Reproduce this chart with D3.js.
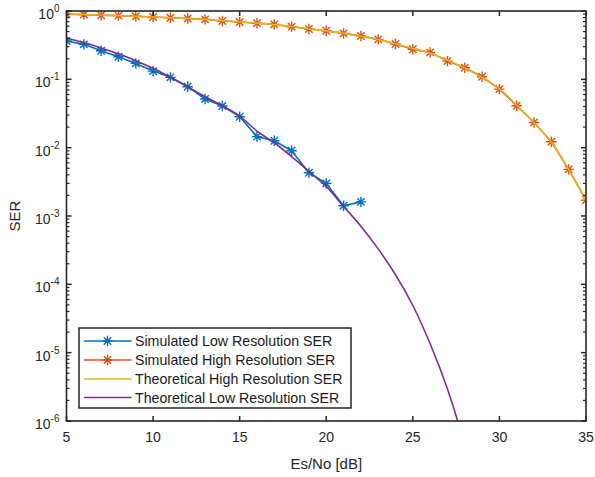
<!DOCTYPE html>
<html>
<head>
<meta charset="utf-8">
<script src="https://cdn.jsdelivr.net/npm/d3@7"></script>
<style>
  html, body { margin: 0; padding: 0; background: #fff; }
  svg { display: block; font-family: "Liberation Sans", Arial, Helvetica, sans-serif; }
</style>
</head>
<body>
<svg id="chart" width="595" height="477"></svg>
<script>
// Es/No axis (dB)
const xTicks = [5, 10, 15, 20, 25, 30, 35];
const yExponents = [0, -1, -2, -3, -4, -5, -6];

// Simulated low resolution SER, 5..22 dB
const simLowX = [5, 6, 7, 8, 9, 10, 11, 12, 13, 14, 15, 16, 17, 18, 19, 20, 21, 22];
const simLowY = [0.365, 0.325, 0.262, 0.214, 0.171, 0.132, 0.107, 0.078, 0.0515, 0.0407,
                 0.0284, 0.0145, 0.0126, 0.0090, 0.0043, 0.0030, 0.00141, 0.00161];

// Simulated high resolution SER, 5..35 dB
const simHighX = d3.range(5, 36);
const simHighY = [0.90, 0.885, 0.868, 0.855, 0.836, 0.817, 0.798, 0.776, 0.755, 0.715,
                  0.690, 0.661, 0.638, 0.589, 0.545, 0.515, 0.471, 0.431, 0.385, 0.329,
                  0.275, 0.248, 0.185, 0.148, 0.109, 0.072, 0.0411, 0.0234, 0.0122, 0.00481, 0.00171];

// Theoretical high resolution SER
const thHighX = d3.range(5, 36);
const thHighY = [0.91, 0.89, 0.872, 0.855, 0.836, 0.817, 0.797, 0.776, 0.752, 0.722,
                 0.695, 0.665, 0.632, 0.592, 0.548, 0.512, 0.470, 0.428, 0.381, 0.331,
                 0.283, 0.240, 0.190, 0.146, 0.107, 0.0725, 0.0418, 0.0232, 0.0121, 0.00478, 0.00168];

// Theoretical low resolution SER
const thLowX = [5, 6, 7, 8, 9, 10, 11, 12, 13, 14, 15, 16, 17, 18, 19, 20, 21, 22, 23, 24, 25, 26, 27, 28];
const thLowY = [0.40, 0.345, 0.288, 0.236, 0.187, 0.145, 0.107, 0.078, 0.0557, 0.041,
                0.029, 0.0175, 0.0118, 0.0074, 0.0045, 0.0027, 0.00138, 0.00071, 0.00033,
                0.000138, 4.9e-5, 1.35e-5, 2.95e-6, 4.5e-7];

const series = [
  { name: "Simulated Low Resolution SER", x: simLowX, y: simLowY, color: "#0072BD", marker: true, curve: d3.curveLinear },
  { name: "Simulated High Resolution SER", x: simHighX, y: simHighY, color: "#D95319", marker: true, curve: d3.curveLinear },
  { name: "Theoretical High Resolution SER", x: thHighX, y: thHighY, color: "#EDB120", marker: false, curve: d3.curveCatmullRom },
  { name: "Theoretical Low Resolution SER", x: thLowX, y: thLowY, color: "#7E2F8E", marker: false, curve: d3.curveCatmullRom }
];

const margin = { left: 66.5, right: 9, top: 11, bottom: 56 };
const W = 595, H = 477;
const axisColor = "#262626";

const svg = d3.select("#chart");
const x = d3.scaleLinear().domain([5, 35]).range([margin.left, W - margin.right]);
const y = d3.scaleLog().domain([1e-6, 1]).range([H - margin.bottom, margin.top]);

const x0 = x.range()[0], x1 = x.range()[1];
const y0 = y.range()[0], y1 = y.range()[1];

svg.append("defs").append("clipPath").attr("id", "plot-clip")
  .append("rect").attr("x", x0).attr("y", y1).attr("width", x1 - x0).attr("height", y0 - y1);

// Plot background
svg.append("rect").attr("x", x0).attr("y", y1).attr("width", x1 - x0).attr("height", y0 - y1)
  .attr("fill", "#fff");

// Data lines and asterisk markers
const plot = svg.append("g").attr("clip-path", "url(#plot-clip)");
series.forEach(s => {
  const pts = s.x.map((v, i) => [v, s.y[i]]);
  const line = d3.line().x(d => x(d[0])).y(d => y(d[1])).curve(s.curve);
  plot.append("path").datum(pts)
    .attr("d", line)
    .attr("fill", "none")
    .attr("stroke", s.color)
    .attr("stroke-width", 1.6)
    .attr("stroke-linejoin", "round");
  if (s.marker) {
    pts.forEach(p => drawStar(plot, x(p[0]), y(p[1]), s.color));
  }
});

function drawStar(g, cx, cy, color) {
  const r = 5.2;
  const d = 3.7;
  g.append("path")
    .attr("d", `M${cx - r},${cy}L${cx + r},${cy}M${cx},${cy - r}L${cx},${cy + r}` +
               `M${cx - d},${cy - d}L${cx + d},${cy + d}M${cx - d},${cy + d}L${cx + d},${cy - d}`)
    .attr("stroke", color)
    .attr("stroke-width", 1.4)
    .attr("fill", "none");
}

// Axes frame and ticks
const ax = svg.append("g").attr("stroke", axisColor).attr("fill", "none");
const majorLen = 5, minorLen = 3;

xTicks.forEach(t => {
  const px = x(t);
  ax.append("line").attr("x1", px).attr("x2", px).attr("y1", y0).attr("y2", y0 - majorLen).attr("stroke-width", 1.5);
  ax.append("line").attr("x1", px).attr("x2", px).attr("y1", y1).attr("y2", y1 + majorLen).attr("stroke-width", 1.5);
});

yExponents.forEach(e => {
  const py = y(Math.pow(10, e));
  ax.append("line").attr("x1", x0).attr("x2", x0 + majorLen).attr("y1", py).attr("y2", py).attr("stroke-width", 1.5);
  ax.append("line").attr("x1", x1).attr("x2", x1 - majorLen).attr("y1", py).attr("y2", py).attr("stroke-width", 1.5);
  if (e > -6) {
    for (let k = 2; k <= 9; k++) {
      const my = y(k * Math.pow(10, e - 1));
      ax.append("line").attr("x1", x0).attr("x2", x0 + minorLen).attr("y1", my).attr("y2", my).attr("stroke-width", 1.2);
      ax.append("line").attr("x1", x1).attr("x2", x1 - minorLen).attr("y1", my).attr("y2", my).attr("stroke-width", 1.2);
    }
  }
});

ax.append("rect").attr("x", x0).attr("y", y1).attr("width", x1 - x0).attr("height", y0 - y1)
  .attr("stroke-width", 1.6);

// Tick labels
const tickFont = 14;
svg.append("g").selectAll("text").data(xTicks).join("text")
  .attr("x", d => x(d)).attr("y", y0 + 21)
  .attr("text-anchor", "middle")
  .attr("font-size", tickFont)
  .attr("fill", axisColor)
  .text(d => d);

const yl = svg.append("g").selectAll("text").data(yExponents).join("text")
  .attr("x", x0 - 7).attr("y", d => y(Math.pow(10, d)) + 8)
  .attr("text-anchor", "end")
  .attr("font-size", tickFont)
  .attr("fill", axisColor);
yl.append("tspan").text("10");
yl.append("tspan").attr("dy", -7).attr("font-size", 10).text(d => d);

// Axis titles
svg.append("text")
  .attr("x", (x0 + x1) / 2).attr("y", 469)
  .attr("text-anchor", "middle")
  .attr("font-size", 15)
  .attr("fill", axisColor)
  .text("Es/No [dB]");

svg.append("text")
  .attr("transform", `translate(20,${(y0 + y1) / 2}) rotate(-90)`)
  .attr("text-anchor", "middle")
  .attr("font-size", 15)
  .attr("fill", axisColor)
  .text("SER");

// Legend
const lg = svg.append("g");
const lgX = 79, lgY = 328, lgW = 272, lgH = 80;
lg.append("rect").attr("x", lgX).attr("y", lgY).attr("width", lgW).attr("height", lgH)
  .attr("fill", "#fff").attr("stroke", axisColor).attr("stroke-width", 1.5);
const rowY = [341, 360, 379, 397.5];
series.forEach((s, i) => {
  const ry = rowY[i];
  lg.append("line").attr("x1", 84).attr("x2", 131.5).attr("y1", ry).attr("y2", ry)
    .attr("stroke", s.color).attr("stroke-width", 1.6);
  if (s.marker) drawStar(lg, 107.5, ry, s.color);
  lg.append("text").attr("x", 135).attr("y", ry + 5)
    .attr("font-size", 14.2).attr("fill", "#1a1a1a")
    .text(s.name);
});
</script>
</body>
</html>
